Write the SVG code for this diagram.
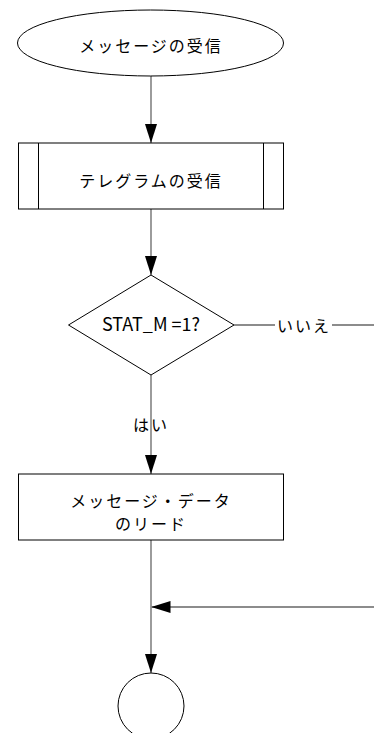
<svg xmlns="http://www.w3.org/2000/svg" width="374" height="733" viewBox="0 0 374 733">
  <defs>
    <style>
      .shape { fill: #ffffff; stroke: #000000; stroke-width: 1; }
      .conn { fill: none; stroke: #666666; stroke-width: 1.3; }
      .jp { font-family: "Noto Sans CJK JP", "Noto Sans", sans-serif; font-size: 16px; letter-spacing: 2px; fill: #000000; text-anchor: middle; dominant-baseline: central; }
      .lbl { font-family: "Noto Sans CJK JP", "Noto Sans", sans-serif; font-size: 16px; letter-spacing: 2px; fill: #000000; dominant-baseline: central; }
      .lat { font-family: "Noto Sans CJK JP", "Noto Sans", sans-serif; font-size: 18px; fill: #000000; text-anchor: middle; }
    </style>
    <marker id="arrow" viewBox="0 0 19 12" refX="19" refY="6" markerWidth="19" markerHeight="12" markerUnits="userSpaceOnUse" orient="auto">
      <path d="M0,0 L19,6 L0,12 Z" fill="#000000"/>
    </marker>
  </defs>

  <!-- connectors -->
  <g id="connectors">
    <line class="conn" x1="151" y1="76" x2="151" y2="143" marker-end="url(#arrow)"/>
    <line class="conn" x1="151" y1="209" x2="151" y2="275" marker-end="url(#arrow)"/>
    <line class="conn" x1="151" y1="375" x2="151" y2="474" marker-end="url(#arrow)"/>
    <line class="conn" x1="234" y1="325" x2="275" y2="325"/>
    <line class="conn" x1="332" y1="325" x2="374" y2="325"/>
    <line class="conn" x1="151" y1="540" x2="151" y2="673" marker-end="url(#arrow)"/>
    <line class="conn" x1="374" y1="607" x2="151.5" y2="607" marker-end="url(#arrow)"/>
    <text class="lbl" x="277" y="325">いいえ</text>
    <text class="lbl" x="133" y="423.5">はい</text>
  </g>

  <g id="start">
    <ellipse class="shape" cx="150.5" cy="43" rx="133" ry="33"/>
    <text class="jp" x="151" y="44.5">メッセージの受信</text>
  </g>

  <g id="receive-telegram">
    <rect class="shape" x="18.5" y="143" width="265" height="66"/>
    <line class="shape" x1="38.5" y1="143" x2="38.5" y2="209"/>
    <line class="shape" x1="263.5" y1="143" x2="263.5" y2="209"/>
    <text class="jp" x="151" y="179.5">テレグラムの受信</text>
  </g>

  <g id="decision">
    <polygon class="shape" points="151,275 234,325 151,375 68.5,325"/>
    <text class="lat" x="151" y="331">STAT_M =1?</text>
  </g>

  <g id="read-data">
    <rect class="shape" x="18.5" y="474" width="265" height="66"/>
    <text class="jp" x="151" y="500">メッセージ・データ</text>
    <text class="jp" x="151" y="523">のリード</text>
  </g>

  <g id="connector-end">
    <circle class="shape" cx="151" cy="706" r="33"/>
  </g>
</svg>
